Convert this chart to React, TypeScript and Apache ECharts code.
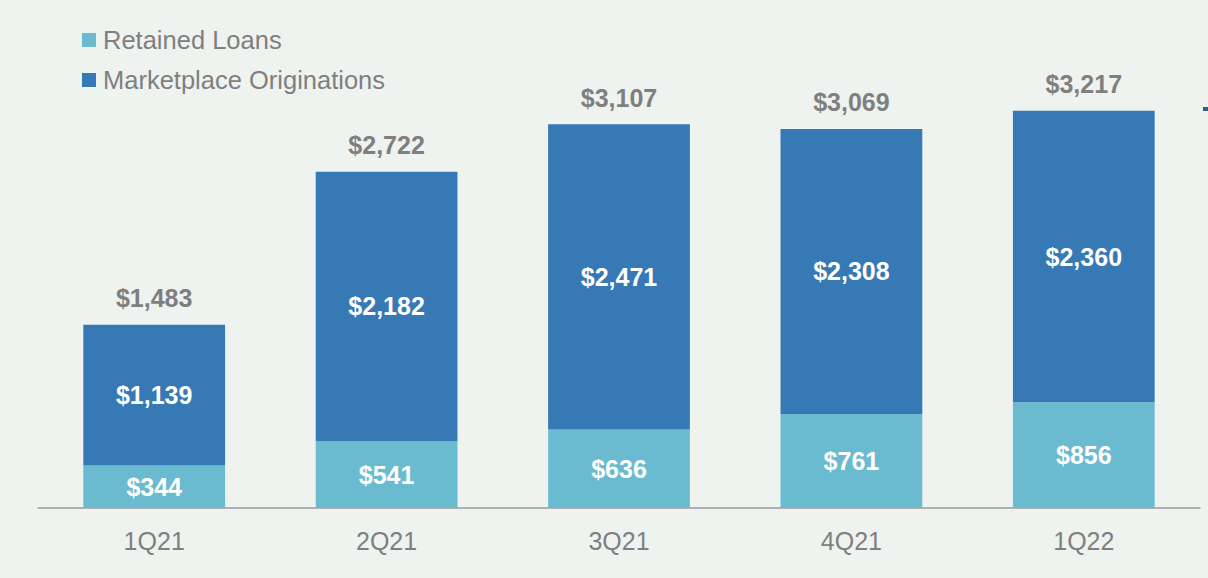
import React, { useEffect, useRef } from "react";
import * as echarts from "echarts";

const categories = ["1Q21", "2Q21", "3Q21", "4Q21", "1Q22"];
const retainedLoans = [344, 541, 636, 761, 856];
const marketplaceOriginations = [1139, 2182, 2471, 2308, 2360];
const totals = [1483, 2722, 3107, 3069, 3217];

const fmt = (v: number) => "$" + v.toLocaleString("en-US");

export default function App() {
  const ref = useRef<HTMLDivElement>(null);
  useEffect(() => {
    if (!ref.current) return;
    const chart = echarts.init(ref.current, null, { renderer: "svg" });
    const font = "Arial, 'Liberation Sans', Helvetica, sans-serif";
    chart.setOption({
      animation: false,
      backgroundColor: "#EEF3F0",
      textStyle: { fontFamily: font },
      legend: {
        orient: "vertical",
        left: 77,
        top: 22,
        itemWidth: 14,
        itemHeight: 14,
        itemGap: 14,
        icon: "rect",
        data: ["Retained Loans", "Marketplace Originations"],
        textStyle: { fontSize: 25.5, color: "#7F7F7F", lineHeight: 26, fontFamily: font, padding: [0, 0, 0, 2] },
      },
      grid: { left: 38, right: 8, top: 14, bottom: 70, containLabel: false },
      xAxis: {
        type: "category",
        data: categories,
        axisLine: { lineStyle: { color: "#9A9A9A", width: 1.5 } },
        axisTick: { show: false },
        axisLabel: { fontSize: 25, color: "#7F7F7F", margin: 20, fontFamily: font },
      },
      yAxis: { type: "value", min: 0, max: 4000, show: false, splitLine: { show: false } },
      series: [
        {
          name: "Retained Loans",
          type: "bar",
          stack: "total",
          barWidth: "61%",
          data: retainedLoans,
          itemStyle: { color: "#6BBBD0" },
          label: {
            show: true,
            position: "inside",
            color: "#FFFFFF",
            fontWeight: "bold",
            fontSize: 25,
            fontFamily: font,
            formatter: (p: any) => fmt(p.value),
          },
        },
        {
          name: "Marketplace Originations",
          type: "bar",
          stack: "total",
          barWidth: "61%",
          data: marketplaceOriginations,
          itemStyle: { color: "#3679B5" },
          label: {
            show: true,
            position: "inside",
            color: "#FFFFFF",
            fontWeight: "bold",
            fontSize: 25,
            fontFamily: font,
            formatter: (p: any) => fmt(p.value),
          },
        },
        {
          name: "Total",
          type: "bar",
          barWidth: "61%",
          barGap: "-100%",
          z: 0,
          data: totals,
          itemStyle: { color: "rgba(0,0,0,0)" },
          silent: true,
          label: {
            show: true,
            position: "top",
            distance: 14,
            color: "#7F7F7F",
            fontWeight: "bold",
            fontSize: 25,
            fontFamily: font,
            formatter: (p: any) => fmt(p.value),
          },
        },
      ],
      graphic: [
        { type: "rect", shape: { x: 1203, y: 107, width: 5, height: 4 }, style: { fill: "#2F5F8F" } },
      ],
    });
    return () => chart.dispose();
  }, []);
  return (
    <div
      ref={ref}
      style={{ position: "fixed", left: 0, top: 0, width: 1208, height: 578 }}
    />
  );
}
